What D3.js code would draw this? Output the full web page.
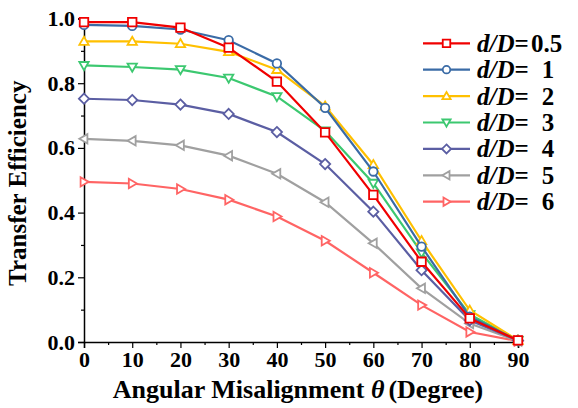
<!DOCTYPE html>
<html>
<head>
<meta charset="utf-8">
<script src="https://cdn.jsdelivr.net/npm/d3@7"></script>
<style>
  html, body { margin: 0; padding: 0; background: #fff; }
  svg { display: block; font-family: "Liberation Serif", "Times New Roman", serif; }
</style>
</head>
<body>
<svg id="chart" width="578" height="408"></svg>
<script>
// Angle in degrees
const angles = [0, 10, 20, 30, 40, 50, 60, 70, 80, 90];

// Transfer efficiency for each d/D ratio
const ratioLabels = ["0.5", "1", "2", "3", "4", "5", "6"];
const eff05 = [0.989, 0.989, 0.972, 0.910, 0.805, 0.648, 0.455, 0.248, 0.073, 0.005];
const eff1  = [0.980, 0.977, 0.966, 0.933, 0.861, 0.724, 0.527, 0.295, 0.078, 0.005];
const eff2  = [0.929, 0.929, 0.922, 0.897, 0.842, 0.729, 0.548, 0.313, 0.098, 0.005];
const eff3  = [0.855, 0.850, 0.842, 0.816, 0.759, 0.653, 0.491, 0.276, 0.085, 0.005];
const eff4  = [0.752, 0.748, 0.734, 0.705, 0.649, 0.550, 0.403, 0.222, 0.067, 0.005];
const eff5  = [0.628, 0.622, 0.608, 0.576, 0.520, 0.432, 0.305, 0.166, 0.057, 0.003];
const eff6  = [0.495, 0.490, 0.473, 0.440, 0.388, 0.313, 0.214, 0.114, 0.031, 0.003];

const xTicks = [0, 10, 20, 30, 40, 50, 60, 70, 80, 90];
const yTicks = [0.0, 0.2, 0.4, 0.6, 0.8, 1.0];

const series = [
  { label: ratioLabels[0], values: eff05, color: "#f00000", marker: "square" },
  { label: ratioLabels[1], values: eff1,  color: "#3a6ba6", marker: "circle" },
  { label: ratioLabels[2], values: eff2,  color: "#ffc000", marker: "up" },
  { label: ratioLabels[3], values: eff3,  color: "#3cc870", marker: "down" },
  { label: ratioLabels[4], values: eff4,  color: "#5b5ea3", marker: "diamond" },
  { label: ratioLabels[5], values: eff5,  color: "#a0a0a0", marker: "left" },
  { label: ratioLabels[6], values: eff6,  color: "#ff6464", marker: "right" }
];

const svg = d3.select("#chart");
const x = d3.scaleLinear().domain([0, 90]).range([84, 518]);
const y = d3.scaleLinear().domain([0, 1]).range([342, 18.5]);

// Marker path generator, centred on 0,0
function markerPath(kind, s) {
  const h = s / 2;
  switch (kind) {
    case "square": return `M${-h},${-h}H${h}V${h}H${-h}Z`;
    case "circle": return `M${h},0A${h},${h} 0 1,1 ${-h},0A${h},${h} 0 1,1 ${h},0Z`;
    case "up": return `M0,${-h * 1.1}L${h * 1.1},${h * 0.8}L${-h * 1.1},${h * 0.8}Z`;
    case "down": return `M0,${h * 1.1}L${h * 1.1},${-h * 0.8}L${-h * 1.1},${-h * 0.8}Z`;
    case "diamond": return `M0,${-h * 1.2}L${h * 1.2},0L0,${h * 1.2}L${-h * 1.2},0Z`;
    case "left": return `M${-h * 1.1},0L${h * 0.8},${-h * 1.1}L${h * 0.8},${h * 1.1}Z`;
    case "right": return `M${h * 1.1},0L${-h * 0.8},${-h * 1.1}L${-h * 0.8},${h * 1.1}Z`;
  }
}

// Axes (left and bottom only), major ticks outward, minor ticks between
const xAxis = d3.axisBottom(x).tickValues(xTicks).tickSize(6).tickFormat(d3.format("d"));
const xMinor = d3.axisBottom(x).tickValues(d3.range(5, 90, 10)).tickSize(3).tickFormat("");
const yAxis = d3.axisLeft(y).tickValues(yTicks).tickSize(6).tickFormat(d3.format(".1f"));
const yMinor = d3.axisLeft(y).tickValues(d3.range(0.1, 1.0, 0.2)).tickSize(3).tickFormat("");

const gx = svg.append("g").attr("transform", `translate(0,${y(0)})`).call(xAxis);
svg.append("g").attr("transform", `translate(0,${y(0)})`).call(xMinor).select(".domain").remove();
const gy = svg.append("g").attr("transform", `translate(${x(0)},0)`).call(yAxis);
svg.append("g").attr("transform", `translate(${x(0)},0)`).call(yMinor).select(".domain").remove();

[gx, gy].forEach(g => {
  g.select(".domain").attr("stroke", "#000").attr("stroke-width", 1.5);
  g.selectAll(".tick text")
    .attr("fill", "#000")
    .style("font-size", "22px")
    .style("font-weight", "bold")
    .style("font-family", "Liberation Serif, Times New Roman, serif");
});
svg.selectAll(".tick line").attr("stroke", "#000").attr("stroke-width", 1.2);
gx.selectAll(".tick text").attr("dy", "0.71em").attr("y", 9);
gy.selectAll(".tick text").attr("x", -9);

// Axis titles
const xTitle = svg.append("text")
  .attr("x", (x(0) + x(90)) / 2 - 3).attr("y", 398)
  .attr("text-anchor", "middle")
  .style("font-size", "26px").style("font-weight", "bold");
xTitle.append("tspan").text("Angular Misalignment ");
xTitle.append("tspan").style("font-style", "italic").text("θ");
xTitle.append("tspan").attr("dx", 4).text("(Degree)");

svg.append("text")
  .attr("transform", `translate(26,${(y(0) + y(1)) / 2 + 3}) rotate(-90)`)
  .attr("text-anchor", "middle")
  .style("font-size", "25px").style("font-weight", "bold")
  .text("Transfer Efficiency");

// Lines and markers
const line = d3.line().x((d, i) => x(angles[i])).y(d => y(d));
const plot = svg.append("g");
series.slice().reverse().forEach(s => {
  const g = plot.append("g");
  g.append("path").datum(s.values)
    .attr("d", line).attr("fill", "none")
    .attr("stroke", s.color).attr("stroke-width", 2.2);
  g.selectAll("path.m").data(s.values).join("path").attr("class", "m")
    .attr("transform", (d, i) => `translate(${x(angles[i])},${y(d)})`)
    .attr("d", markerPath(s.marker, 8.5))
    .attr("fill", "#fff").attr("stroke", s.color).attr("stroke-width", 1.8);
});

// Legend
const legend = svg.append("g");
series.forEach((s, i) => {
  const cy = 43.3 + i * 26.4;
  legend.append("line").attr("x1", 423).attr("x2", 470).attr("y1", cy).attr("y2", cy)
    .attr("stroke", s.color).attr("stroke-width", 2.2);
  legend.append("path").attr("transform", `translate(446.5,${cy})`)
    .attr("d", markerPath(s.marker, 7.5))
    .attr("fill", "#fff").attr("stroke", s.color).attr("stroke-width", 1.8);
  const t = legend.append("text").attr("x", 477).attr("y", cy + 8.5)
    .style("font-size", "25px").style("font-weight", "bold");
  t.append("tspan").style("font-style", "italic").text("d");
  t.append("tspan").style("font-style", "italic").text("/");
  t.append("tspan").style("font-style", "italic").text("D");
  t.append("tspan").text("=");
  if (s.label.length > 1) {
    legend.append("text").attr("x", 531).attr("y", cy + 8.5)
      .style("font-size", "25px").style("font-weight", "bold").text(s.label);
  } else {
    legend.append("text").attr("x", 548).attr("y", cy + 8.5).attr("text-anchor", "middle")
      .style("font-size", "25px").style("font-weight", "bold").text(s.label);
  }
});
</script>
</body>
</html>
